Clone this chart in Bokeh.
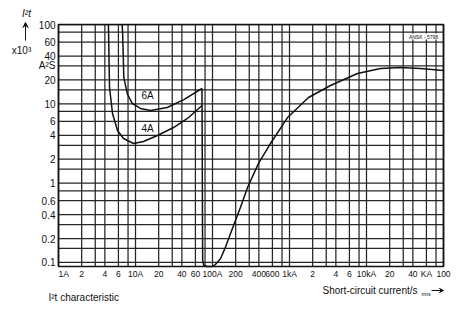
from bokeh.plotting import figure
from bokeh.models import Label, Arrow, VeeHead, Range1d
from bokeh.core.properties import value
from bokeh.embed import file_html
from bokeh.resources import INLINE

# ---------------- data (current in A, I²t in 10³ A²s) ----------------
current_4A = [4.45, 4.52, 4.6, 5.03, 5.84, 6.99, 9.42, 12.7, 19.3, 31.2, 47.3, 73]
i2t_4A = [100, 40, 16.1, 7.55, 4.6, 3.65, 3.16, 3.35, 3.98, 5.02, 6.53, 9.53]

current_6A = [6.7, 6.8, 6.92, 7.05, 7.8, 9.06, 11.6, 15.7, 25.8, 42.4, 73]
i2t_6A = [100, 80, 43, 21.5, 13.5, 10.1, 8.73, 8.22, 8.97, 11.3, 15.6]

current_100A = [73, 74.5, 77, 85, 99, 109, 127, 147.5, 171, 231, 285, 396, 567,
                942, 1766, 3404, 7640, 15200, 27700, 50300, 100000]
i2t_100A = [15.6, 0.106, 0.092, 0.0888, 0.089, 0.094, 0.111, 0.156, 0.23, 0.497,
            0.88, 1.77, 3.16, 6.71, 12.0, 17.0, 24.1, 27.9, 28.7, 27.9, 26.3]

x_tick_values = [1, 2, 4, 6, 10, 20, 40, 60, 100, 200, 400, 600, 1000, 2000, 4000,
                 6000, 10000, 20000, 40000, 60000, 100000]
x_tick_labels = ["1A", "2", "4", "6", "10A", "20", "40", "60", "100A", "200", "400",
                 "600", "1kA", "2", "4", "6", "10kA", "20", "40", "KA", "100"]
y_tick_values = [0.1, 0.2, 0.4, 0.6, 1, 2, 4, 6, 10, 20, 30, 40, 60, 100]
y_tick_labels = ["0.1", "0.2", "0.4", "0.6", "1", "2", "4", "6", "10", "20", "A²S",
                 "40", "60", "100"]

x_grid_mantissas = [1, 2, 3, 4, 6, 8]
y_grid_mantissas = [1, 1.5, 2, 3, 4, 6, 8]

# ---------------- layout ----------------
W, H = 456, 310
LEFT, RIGHT, TOP, BOTTOM = 58, 443, 24, 266        # chart box in page pixels
X0, X1 = 1, 100000                                  # chart box in data units
Y1 = 100
DEC_X = (RIGHT - LEFT) / 5.0
DEC_Y = 79.3
Y0 = 10 ** (2 - (BOTTOM - TOP) / DEC_Y)


def to_data(px, py):
    return 10 ** ((px - LEFT) / DEC_X), 10 ** (2 - (py - TOP) / DEC_Y)


# the plotting frame covers the whole page so that the outside texts are drawn too
xr0, yr0 = to_data(0, H)
xr1, yr1 = to_data(W, 0)

FONT = "Liberation Sans"
INK = "#111111"
GRID = "#262626"

p = figure(width=W, height=H, x_axis_type="log", y_axis_type="log",
           x_range=Range1d(xr0, xr1), y_range=Range1d(yr0, yr1),
           x_axis_location=None, y_axis_location=None,
           min_border=0, min_border_left=0, min_border_right=0,
           min_border_top=0, min_border_bottom=0,
           output_backend="svg", toolbar_location=None)
p.background_fill_color = "white"
p.border_fill_color = "white"
p.outline_line_color = None
p.grid.visible = False

# grid lines (inside the chart box only)
xg = [m * 10 ** e for e in range(0, 5) for m in x_grid_mantissas] + [100000]
yg = [m * 10 ** e for e in range(-2, 2) for m in y_grid_mantissas] + [100]
xg = [v for v in xg if X0 <= v <= X1]
yg = [v for v in yg if Y0 <= v <= Y1]
p.segment(x0=xg, y0=[Y0] * len(xg), x1=xg, y1=[Y1] * len(xg),
          line_color=GRID, line_width=1.25)
p.segment(x0=[X0] * len(yg), y0=yg, x1=[X1] * len(yg), y1=yg,
          line_color=GRID, line_width=1.25)
# chart box
p.quad(left=[X0], right=[X1], bottom=[Y0], top=[Y1], fill_color=None,
       line_color=INK, line_width=1.7)

# tick labels
_, y_xlab = to_data(0, 273)
x_ylab, _ = to_data(55, 0)
p.text(x=x_tick_values[:1], y=[y_xlab], text=x_tick_labels[:1],
       text_font=value(FONT), text_font_size="8.5px", text_color=INK,
       text_align="left", text_baseline="middle")
p.text(x=x_tick_values[1:], y=[y_xlab] * (len(x_tick_values) - 1), text=x_tick_labels[1:],
       text_font=value(FONT), text_font_size="8.5px", text_color=INK,
       text_align="center", text_baseline="middle")
p.text(x=[x_ylab] * len(y_tick_values), y=y_tick_values, text=y_tick_labels,
       text_font=value(FONT), text_font_size="10px", text_color=INK,
       text_align="right", text_baseline="middle")

# curves
p.line(current_4A, i2t_4A, line_color=INK, line_width=1.5)
p.line(current_6A, i2t_6A, line_color=INK, line_width=1.5)
p.line(current_100A, i2t_100A, line_color=INK, line_width=1.5)


def add_text(px, py, text, size="10px", align="center", style="normal", bg=None):
    x, y = to_data(px, py)
    lab = Label(x=x, y=y, text=text, text_font=FONT, text_font_size=size,
                text_color=INK, text_align=align, text_baseline="middle",
                text_font_style=style)
    if bg:
        lab.background_fill_color = bg
    p.add_layout(lab)


add_text(147, 95, "6A")
add_text(147, 128, "4A")
add_text(423, 36, "ANSK - 5798", size="5px", bg="white")

add_text(26, 13, "I²t", size="10px", style="italic")
add_text(21, 50, "x10³", size="10px")
add_text(48, 297, "I²t characteristic", size="10px", align="left")
add_text(322, 290, "Short-circuit current/s", size="10px", align="left")
add_text(421, 293, "rms", size="5.5px", align="left")

ax0, ay0 = to_data(431, 290)
ax1, ay1 = to_data(443, 290)
p.add_layout(Arrow(end=VeeHead(size=4, line_color=INK, fill_color=INK, line_width=1),
                   x_start=ax0, y_start=ay0, x_end=ax1, y_end=ay1,
                   line_color=INK, line_width=1))
bx0, by0 = to_data(25, 40)
bx1, by1 = to_data(25, 22)
p.add_layout(Arrow(end=VeeHead(size=5, line_color=INK, fill_color=INK, line_width=1),
                   x_start=bx0, y_start=by0, x_end=bx1, y_end=by1,
                   line_color=INK, line_width=1))

open("out.html", "w").write(file_html(p, INLINE))
